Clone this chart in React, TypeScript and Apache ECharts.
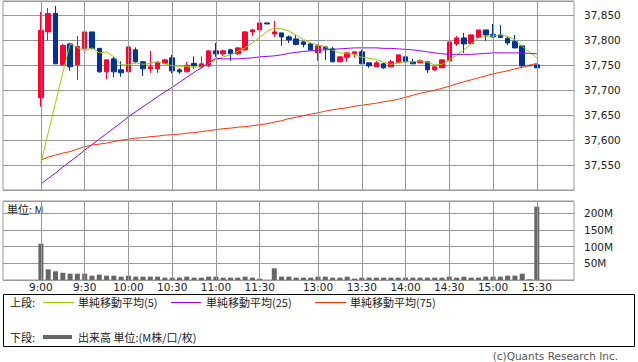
import React, { useEffect, useRef } from "react";
import * as echarts from "echarts";

const times = [
  "9:00","9:05","9:10","9:15","9:20","9:25","9:30","9:35","9:40","9:45","9:50","9:55",
  "10:00","10:05","10:10","10:15","10:20","10:25","10:30","10:35","10:40","10:45","10:50","10:55",
  "11:00","11:05","11:10","11:15","11:20","11:25","11:30","12:25",
  "12:30","12:35","12:40","12:45","12:50","12:55",
  "13:00","13:05","13:10","13:15","13:20","13:25","13:30","13:35","13:40","13:45","13:50","13:55",
  "14:00","14:05","14:10","14:15","14:20","14:25","14:30","14:35","14:40","14:45","14:50","14:55",
  "15:00","15:05","15:10","15:15","15:20","15:25","15:30",
];

const opens = [
  37685,37817,37854,37751,37793,37751,37784,37817,37784,37737,37763,37741,
  37737,37781,37757,37743,37743,37754,37765,37741,37737,37754,37747,37749,
  37779,37773,37781,37773,37781,37817,37821,37835,
  37813,37815,37807,37803,37797,37793,
  37775,37787,37783,37757,37766,37773,37777,37755,37747,37753,37747,37755,
  37767,37757,37755,37757,37741,37745,37759,37793,37805,37794,37806,37821,
  37812,37811,37804,37798,37789,37750,37751,
];
const closes = [
  37820,37854,37753,37790,37747,37788,37817,37784,37737,37761,37737,37735,
  37787,37757,37743,37747,37755,37761,37739,37737,37750,37749,37753,37779,
  37773,37779,37773,37785,37817,37821,37835,37833,
  37817,37807,37801,37792,37792,37781,
  37789,37783,37757,37767,37775,37777,37753,37749,37755,37745,37757,37771,
  37757,37753,37759,37741,37747,37761,37797,37805,37793,37811,37821,37811,
  37807,37806,37795,37785,37749,37749,37745,
];
const highs = [
  37857,37865,37869,37793,37795,37809,37823,37817,37785,37761,37767,37758,
  37809,37786,37759,37779,37757,37763,37771,37744,37757,37768,37768,37780,
  37795,37781,37783,37787,37819,37823,37835,37835,
  37839,37815,37810,37811,37799,37795,
  37791,37789,37787,37768,37777,37778,37781,37755,37759,37755,37761,37771,
  37771,37763,37762,37758,37749,37761,37811,37809,37815,37812,37821,37821,
  37833,37831,37808,37811,37789,37750,37751,
];
const lows = [
  37667,37800,37753,37751,37739,37721,37765,37782,37735,37722,37726,37727,
  37737,37754,37729,37735,37735,37752,37734,37733,37737,37743,37744,37747,
  37767,37769,37759,37771,37779,37809,37821,37833,
  37807,37789,37795,37790,37786,37779,
  37759,37761,37757,37757,37757,37766,37753,37745,37747,37743,37747,37755,
  37757,37753,37755,37735,37739,37745,37759,37789,37775,37792,37805,37799,
  37806,37805,37791,37784,37744,37749,37745,
];

const volumes = [
  109,32,26,22,19,19,19,13,16,13,13,10,
  13,10,10,10,10,7,7,7,10,7,7,10,
  10,7,7,7,10,7,4,0,
  35,10,10,7,7,7,
  10,10,7,7,10,4,7,7,7,7,7,7,
  7,7,7,7,7,7,10,7,10,7,7,10,
  10,10,13,13,19,2,220,
];

const ma5 = [
  37554,37615,37675,37735,37793,37786,37779,37785,37775,37777,37767,37751,
  37751,37755,37752,37754,37758,37753,37749,37748,37748,37747,37746,37754,
  37761,37767,37771,37778,37785,37795,37806,37818,
  37825,37823,37819,37810,37802,37795,
  37791,37787,37780,37775,37774,37772,37766,37764,37762,37756,37752,37755,
  37757,37757,37759,37756,37751,37752,37761,37770,37781,37793,37805,37808,
  37809,37811,37808,37801,37788,37777,37765,
];
const ma25 = [
  37512,37523,37534,37546,37557,37568,37580,37591,37602,37613,37624,37635,
  37647,37657,37667,37677,37687,37697,37706,37716,37726,37736,37745,37755,
  37764,37763,37763,37763,37764,37765,37767,37768,
  37769,37771,37774,37776,37778,37779,
  37780,37781,37782,37783,37784,37785,37785,37785,37785,37784,37784,37783,
  37782,37781,37779,37777,37775,37773,37772,37772,37772,37772,37773,37774,
  37775,37775,37775,37775,37775,37774,37773,
];
const ma75 = [
  37560,37566,37570,37574,37577,37582,37587,37590,37592,37594,37597,37600,
  37602,37604,37605,37607,37608,37610,37611,37612,37614,37615,37617,37619,
  37621,37623,37624,37626,37627,37629,37631,37633,
  37636,37639,37643,37646,37649,37652,
  37655,37658,37661,37663,37665,37668,37670,37672,37674,37677,37679,37682,
  37686,37690,37694,37697,37700,37704,37708,37713,37717,37721,37725,37729,
  37733,37736,37739,37743,37746,37750,37754,
];

const tickLabels = ["9:00","9:30","10:00","10:30","11:00","11:30","13:00","13:30","14:00","14:30","15:00","15:30"];

const UP = "#ff0033";
const DOWN = "#003399";
const GRID = "#999999";
const FONT_NUM = "'DejaVu Sans', 'Noto Sans CJK JP', sans-serif";
const FONT_JP = "'Noto Sans CJK JP', sans-serif";

function fmtPrice(v: number) {
  return String(v).replace(/\B(?=(\d{3})+(?!\d))/g, ",");
}

export default function App() {
  const ref = useRef<HTMLDivElement>(null);
  useEffect(() => {
    if (!ref.current) return;
    const chart = echarts.init(ref.current, undefined, { renderer: "svg" });
    const tickSlots = tickLabels.map((t) => times.indexOf(t));
    const idx = times.map((_, i) => i);
    const vline = {
      silent: true,
      symbol: ["none", "none"],
      label: { show: false },
      lineStyle: { color: GRID, type: "solid", width: 1 },
      emphasis: { disabled: true },
      data: tickSlots.map((s) => ({ xAxis: s })),
    };
    const xBase = {
      type: "value",
      min: -5.2,
      max: 73.1,
      axisLine: { show: false },
      axisTick: { show: false },
      splitLine: { show: false },
    };
    const option: any = {
      animation: false,
      backgroundColor: "#ffffff",
      grid: [
        { left: 3, top: 1, width: 571, height: 189, show: true, borderColor: GRID, borderWidth: 1, backgroundColor: "#fff" },
        { left: 3, top: 201, width: 571, height: 79, show: true, borderColor: GRID, borderWidth: 1, backgroundColor: "#fff" },
      ],
      xAxis: [
        { ...xBase, gridIndex: 0, axisLabel: { show: false } },
        {
          ...xBase,
          gridIndex: 1,
          axisLabel: {
            show: true,
            customValues: tickSlots,
            formatter: (v: number) => times[Math.round(v)] ?? "",
            color: "#222",
            fontSize: 10.5,
            fontFamily: FONT_NUM,
            margin: 2,
          },
        },
      ],
      yAxis: [
        {
          type: "value",
          gridIndex: 0,
          position: "right",
          min: 37500,
          max: 37879,
          interval: 50,
          axisLine: { show: false },
          axisTick: { show: false },
          splitLine: { show: true, lineStyle: { color: GRID, width: 1 } },
          axisLabel: {
            formatter: (v: number) => fmtPrice(v),
            showMinLabel: false,
            showMaxLabel: false,
            color: "#222",
            fontSize: 10.5,
            fontFamily: FONT_NUM,
            margin: 10,
          },
        },
        {
          type: "value",
          gridIndex: 1,
          position: "right",
          min: 0,
          max: 237,
          interval: 50,
          axisLine: { show: false },
          axisTick: { show: false },
          splitLine: { show: true, lineStyle: { color: GRID, width: 1 } },
          axisLabel: {
            formatter: (v: number) => v + "M",
            showMinLabel: false,
            showMaxLabel: false,
            color: "#222",
            fontSize: 10.5,
            fontFamily: FONT_NUM,
            margin: 10,
          },
        },
      ],
      series: [
        { type: "line", xAxisIndex: 0, yAxisIndex: 0, data: [], z: 1, markLine: vline },
        { type: "line", xAxisIndex: 1, yAxisIndex: 1, data: [], z: 1, markLine: vline },
        {
          type: "candlestick",
          name: "価格",
          xAxisIndex: 0,
          yAxisIndex: 0,
          barWidth: 5,
          z: 2,
          data: idx.map((i) => [i, opens[i], closes[i], lows[i], highs[i]]),
          itemStyle: { color: UP, color0: DOWN, borderColor: UP, borderColor0: DOWN, borderWidth: 1 },
        },
        {
          type: "line", name: "単純移動平均(5)", xAxisIndex: 0, yAxisIndex: 0, z: 3,
          showSymbol: false, symbol: "none",
          data: idx.map((i) => [i, ma5[i]]),
          lineStyle: { color: "#99cc00", width: 1 },
        },
        {
          type: "line", name: "単純移動平均(25)", xAxisIndex: 0, yAxisIndex: 0, z: 3,
          showSymbol: false, symbol: "none",
          data: idx.map((i) => [i, ma25[i]]),
          lineStyle: { color: "#9900ff", width: 1 },
        },
        {
          type: "line", name: "単純移動平均(75)", xAxisIndex: 0, yAxisIndex: 0, z: 3,
          showSymbol: false, symbol: "none",
          data: idx.map((i) => [i, ma75[i]]),
          lineStyle: { color: "#ff3300", width: 1 },
        },
        {
          type: "bar", name: "出来高", xAxisIndex: 1, yAxisIndex: 1, z: 2,
          barWidth: 5,
          data: idx.map((i) => [i, volumes[i]]),
          itemStyle: { color: "#666666" },
        },
      ],
      graphic: [
        { type: "text", x: 7, y: 209, style: { text: "単位: M", fill: "#222", fontSize: 11, fontFamily: FONT_JP, verticalAlign: "middle" } },
        { type: "rect", shape: { x: 3.5, y: 294.5, width: 631, height: 52 }, style: { fill: "none", stroke: "#000", lineWidth: 1 } },
        { type: "text", x: 10, y: 302, style: { text: "上段:", fill: "#222", fontSize: 11, fontFamily: FONT_JP, verticalAlign: "middle" } },
        { type: "line", shape: { x1: 43, y1: 302.5, x2: 74, y2: 302.5 }, style: { stroke: "#99cc00", lineWidth: 1 } },
        { type: "text", x: 78, y: 302, style: { text: "単純移動平均(5)", fill: "#222", fontSize: 11, fontFamily: FONT_JP, verticalAlign: "middle" } },
        { type: "line", shape: { x1: 171, y1: 302.5, x2: 201, y2: 302.5 }, style: { stroke: "#9900ff", lineWidth: 1 } },
        { type: "text", x: 206, y: 302, style: { text: "単純移動平均(25)", fill: "#222", fontSize: 11, fontFamily: FONT_JP, verticalAlign: "middle" } },
        { type: "line", shape: { x1: 315, y1: 302.5, x2: 346, y2: 302.5 }, style: { stroke: "#ff3300", lineWidth: 1 } },
        { type: "text", x: 350, y: 302, style: { text: "単純移動平均(75)", fill: "#222", fontSize: 11, fontFamily: FONT_JP, verticalAlign: "middle" } },
        { type: "text", x: 10, y: 337, style: { text: "下段:", fill: "#222", fontSize: 11, fontFamily: FONT_JP, verticalAlign: "middle" } },
        { type: "line", shape: { x1: 43, y1: 337, x2: 72, y2: 337 }, style: { stroke: "#666666", lineWidth: 4 } },
        { type: "text", x: 78, y: 337, style: { text: "出来高 単位:(M株/口/枚)", fill: "#222", fontSize: 11, fontFamily: FONT_JP, verticalAlign: "middle" } },
        { type: "text", x: 618, y: 356, style: { text: "(c)Quants Research Inc.", fill: "#555", fontSize: 10.5, fontFamily: FONT_NUM, align: "right", verticalAlign: "middle" } },
      ],
    };
    chart.setOption(option);
    return () => chart.dispose();
  }, []);
  return (
    <div
      ref={ref}
      style={{ position: "absolute", left: 0, top: 0, width: 638, height: 362 }}
    />
  );
}
